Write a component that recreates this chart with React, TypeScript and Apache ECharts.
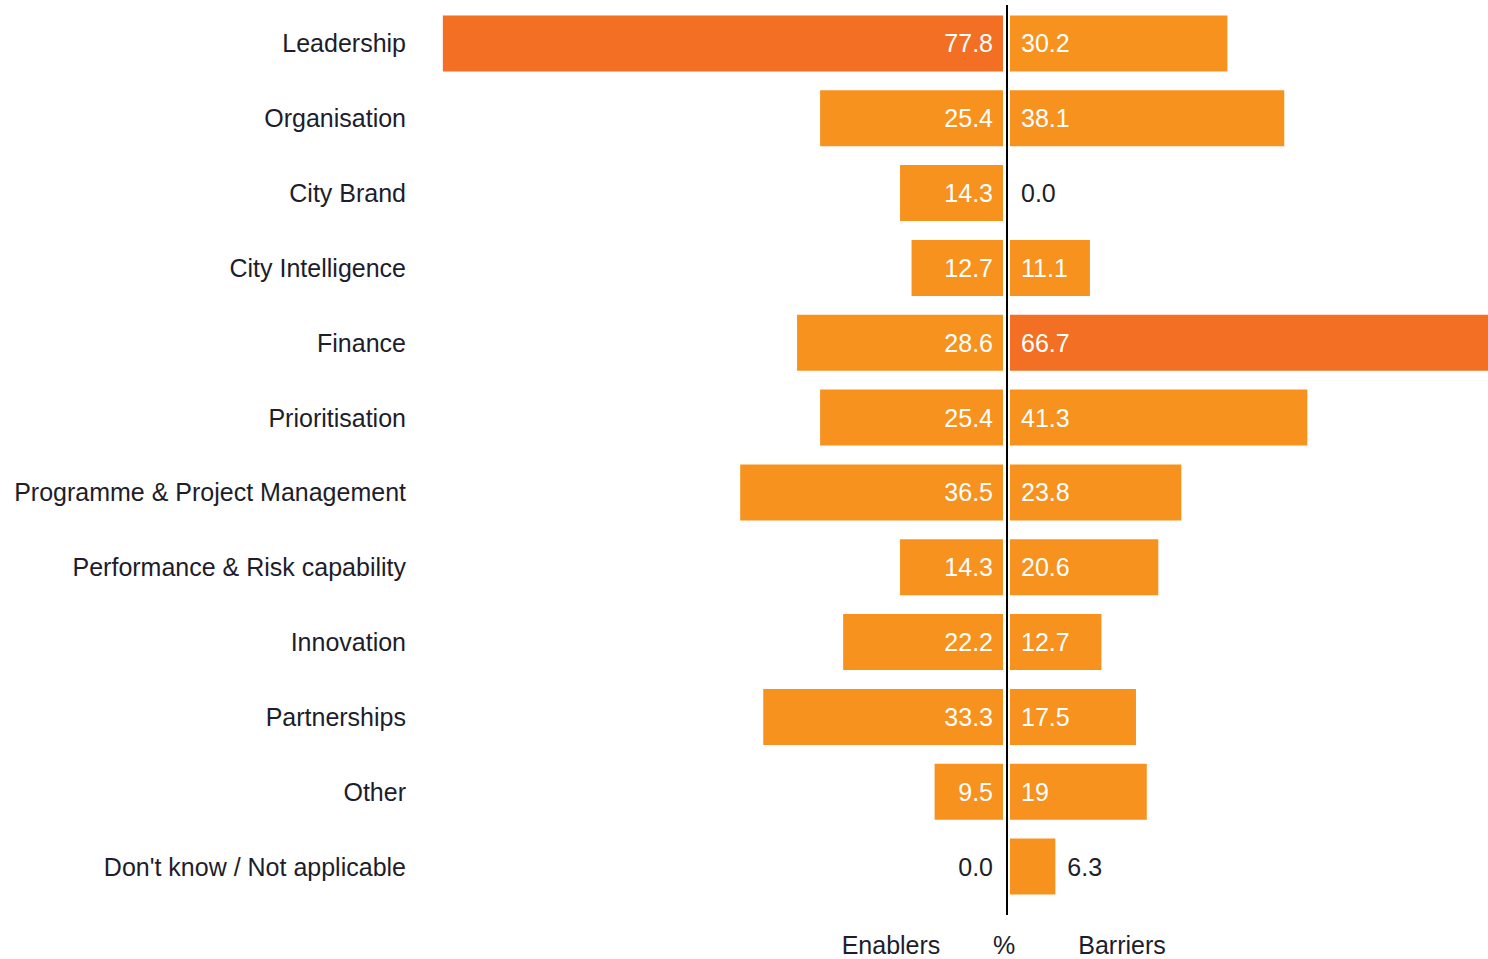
import React, { useEffect, useRef } from "react";
import * as echarts from "echarts";

const categories = [
  "Leadership",
  "Organisation",
  "City Brand",
  "City Intelligence",
  "Finance",
  "Prioritisation",
  "Programme & Project Management",
  "Performance & Risk capability",
  "Innovation",
  "Partnerships",
  "Other",
  "Don't know / Not applicable",
];
const enablers = [77.8, 25.4, 14.3, 12.7, 28.6, 25.4, 36.5, 14.3, 22.2, 33.3, 9.5, 0.0];
const barriers = [30.2, 38.1, 0.0, 11.1, 66.7, 41.3, 23.8, 20.6, 12.7, 17.5, 19, 6.3];
const enablerLabels = ["77.8", "25.4", "14.3", "12.7", "28.6", "25.4", "36.5", "14.3", "22.2", "33.3", "9.5", "0.0"];
const barrierLabels = ["30.2", "38.1", "0.0", "11.1", "66.7", "41.3", "23.8", "20.6", "12.7", "17.5", "19", "6.3"];
const bottomLabels = ["Enablers", "%", "Barriers"];

const LIGHT = "#F7921F";
const DARK = "#F26F23";
const TEXT = "#1d1d2b";
const FONT = "'Liberation Sans Narrow', 'Arial Narrow', 'Liberation Sans', sans-serif";
const FS = 25;

export default function App() {
  const ref = useRef<HTMLDivElement>(null);
  useEffect(() => {
    if (!ref.current) return;
    const chart = echarts.init(ref.current, null, { renderer: "svg" });
    const maxE = Math.max(...enablers);
    const maxB = Math.max(...barriers);

    const leftData = enablers.map((v, i) => ({
      value: v,
      itemStyle: { color: v === maxE ? DARK : LIGHT },
      label: {
        show: true,
        formatter: enablerLabels[i],
        position: "insideRight",
        distance: 10,
        color: v < 5 ? TEXT : "#ffffff",
      },
    }));
    const rightData = barriers.map((v, i) => ({
      value: v,
      itemStyle: { color: v === maxB ? DARK : LIGHT },
      label: {
        show: true,
        formatter: barrierLabels[i],
        position: v > 0 && v < 8 ? "right" : "insideLeft",
        distance: v > 0 && v < 8 ? 12 : 11,
        color: v < 8 ? TEXT : "#ffffff",
      },
    }));

    const gridTop = 6;
    const gridHeight = 898;

    chart.setOption({
      animation: false,
      textStyle: { fontFamily: FONT },
      grid: [
        { left: 427, width: 576, top: gridTop, height: gridHeight, outerBoundsMode: "none", containLabel: false },
        { left: 1010, width: 478, top: gridTop, height: gridHeight, outerBoundsMode: "none", containLabel: false },
      ],
      xAxis: [
        { type: "value", gridIndex: 0, min: 0, max: 80, inverse: true, show: false },
        { type: "value", gridIndex: 1, min: 0, max: 66.4, show: false },
      ],
      yAxis: [
        {
          type: "category",
          gridIndex: 0,
          data: categories,
          inverse: true,
          position: "left",
          axisLine: { show: false, onZero: false },
          axisTick: { show: false },
          splitLine: { show: false },
          axisLabel: { margin: 21, fontSize: FS, color: TEXT, fontFamily: FONT },
        },
        {
          type: "category",
          gridIndex: 1,
          data: categories,
          inverse: true,
          show: false,
        },
      ],
      series: [
        {
          type: "bar",
          xAxisIndex: 0,
          yAxisIndex: 0,
          data: leftData,
          barWidth: 56,
          barMinHeight: 1,
          label: { fontSize: FS, fontFamily: FONT },
        },
        {
          type: "bar",
          xAxisIndex: 1,
          yAxisIndex: 1,
          data: rightData,
          barWidth: 56,
          label: { fontSize: FS, fontFamily: FONT },
        },
      ],
      graphic: [
        {
          type: "line",
          shape: { x1: 1007, y1: 5, x2: 1007, y2: 915 },
          style: { stroke: "#000000", lineWidth: 2 },
        },
        {
          type: "text",
          x: 891,
          y: 945,
          style: { text: bottomLabels[0], fill: TEXT, font: `${FS}px ${FONT}`, align: "center", verticalAlign: "middle" },
        },
        {
          type: "text",
          x: 1004,
          y: 945,
          style: { text: bottomLabels[1], fill: TEXT, font: `${FS}px ${FONT}`, align: "center", verticalAlign: "middle" },
        },
        {
          type: "text",
          x: 1122,
          y: 945,
          style: { text: bottomLabels[2], fill: TEXT, font: `${FS}px ${FONT}`, align: "center", verticalAlign: "middle" },
        },
      ],
    });
    return () => chart.dispose();
  }, []);
  return (
    <div
      ref={ref}
      style={{ position: "fixed", left: 0, top: 0, width: 1488, height: 959, background: "#ffffff" }}
    />
  );
}
